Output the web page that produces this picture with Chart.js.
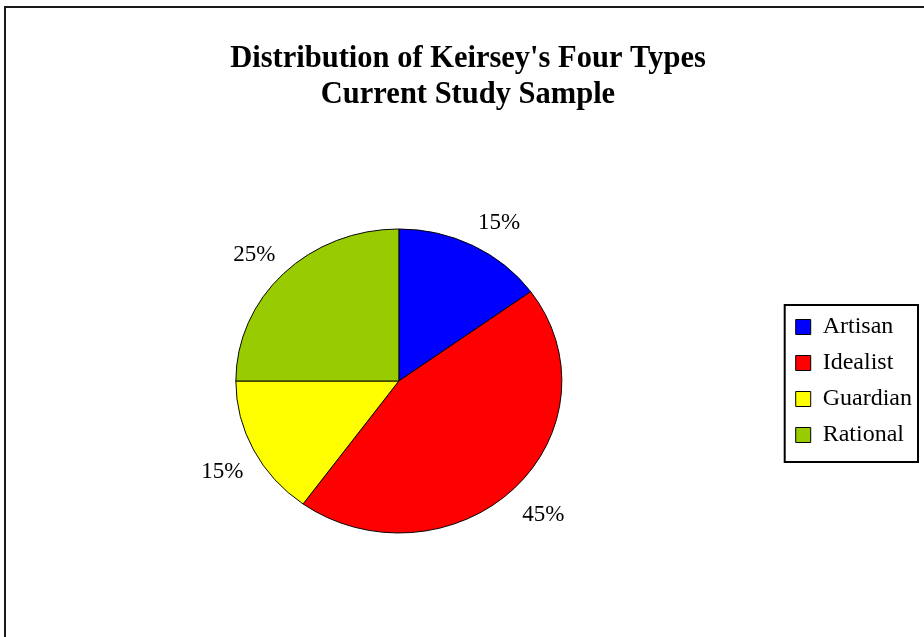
<!DOCTYPE html>
<html>
<head>
<meta charset="utf-8">
<script src="https://cdn.jsdelivr.net/npm/chart.js@4"></script>
<style>
  html, body { margin: 0; padding: 0; background: #fff; }
  #wrap { width: 924px; height: 637px; position: relative; }
</style>
</head>
<body>
<div id="wrap"><canvas id="chart"></canvas></div>
<script>
// Keirsey temperament distribution (percent of sample)
const categories = ['Artisan', 'Idealist', 'Guardian', 'Rational'];
const percents = [15, 45, 15, 25];
const sliceColors = ['#0000FF', '#FF0000', '#FFFF00', '#99CC00'];
const titleLines = ["Distribution of Keirsey's Four Types", 'Current Study Sample'];

const SERIF = "'Liberation Serif', 'Times New Roman', serif";
const PIE_RADIUS = 163;       // horizontal radius in px
const PIE_SQUASH = 152 / 163; // vertical / horizontal radius

// Outer frame line (top and left edges visible)
const framePlugin = {
  id: 'frame',
  beforeDraw(chart) {
    const ctx = chart.ctx;
    ctx.save();
    ctx.fillStyle = '#fff';
    ctx.fillRect(0, 0, chart.width, chart.height);
    ctx.strokeStyle = '#1a1a1a';
    ctx.lineWidth = 2;
    ctx.strokeRect(5, 7, chart.width + 20, chart.height + 20);
    ctx.restore();
  }
};

// Draws the pie slightly flattened and puts percent labels outside each slice
const ellipsePlugin = {
  id: 'ellipsePie',
  beforeDatasetsDraw(chart) {
    const arc = chart.getDatasetMeta(0).data[0];
    const ctx = chart.ctx;
    ctx.save();
    ctx.translate(arc.x, arc.y);
    ctx.scale(1, PIE_SQUASH);
    ctx.translate(-arc.x, -arc.y);
  },
  afterDatasetsDraw(chart) {
    const ctx = chart.ctx;
    ctx.restore();
    const meta = chart.getDatasetMeta(0);
    const values = chart.data.datasets[0].data;
    ctx.save();
    ctx.font = '23px ' + SERIF;
    ctx.fillStyle = '#000';
    ctx.textAlign = 'center';
    ctx.textBaseline = 'middle';
    const kx = 1.07, ky = 1.13, h = 17, dropY = 4;
    meta.data.forEach((arc, i) => {
      const p = arc.getProps(['x', 'y', 'startAngle', 'endAngle', 'outerRadius'], true);
      const mid = (p.startAngle + p.endAngle) / 2;
      const c = Math.cos(mid), s = Math.sin(mid);
      const text = values[i] + '%';
      const w = ctx.measureText(text).width;
      const x = p.x + p.outerRadius * kx * c + Math.sign(c) * w / 2;
      const y = p.y + p.outerRadius * PIE_SQUASH * ky * s + Math.sign(s) * h / 2 + dropY;
      ctx.fillText(text, x, y);
    });
    ctx.restore();
  }
};

// Box around the legend entries
const legendBoxPlugin = {
  id: 'legendBox',
  afterDraw(chart) {
    const lg = chart.legend;
    if (!lg || !lg.legendHitBoxes || !lg.legendHitBoxes.length) return;
    const hb = lg.legendHitBoxes;
    const top = hb[0].top - 10;
    const last = hb[hb.length - 1];
    const bottom = last.top + last.height + 15;
    const left = lg.left + 1;
    const right = lg.right - 4;
    const ctx = chart.ctx;
    ctx.save();
    ctx.strokeStyle = '#000';
    ctx.lineWidth = 2;
    ctx.strokeRect(left, top, right - left, bottom - top);
    ctx.restore();
  }
};

new Chart(document.getElementById('chart'), {
  type: 'pie',
  data: {
    labels: categories,
    datasets: [{
      data: percents,
      backgroundColor: sliceColors,
      borderColor: '#000',
      borderWidth: 1,
      radius: PIE_RADIUS
    }]
  },
  options: {
    responsive: true,
    maintainAspectRatio: false,
    animation: false,
    layout: { padding: { left: 14, right: 2, top: 0, bottom: 0 } },
    plugins: {
      title: {
        display: true,
        text: titleLines,
        color: '#000',
        font: { family: SERIF, size: 30.5, weight: 'bold', lineHeight: 1.18 },
        padding: { top: 41.5, bottom: 11.5 }
      },
      legend: {
        position: 'right',
        fullSize: false,
        labels: {
          color: '#000',
          font: { family: SERIF, size: 24 },
          boxWidth: 15,
          boxHeight: 15,
          padding: 12
        }
      },
      tooltip: { enabled: false }
    }
  },
  plugins: [framePlugin, ellipsePlugin, legendBoxPlugin]
});
</script>
</body>
</html>
